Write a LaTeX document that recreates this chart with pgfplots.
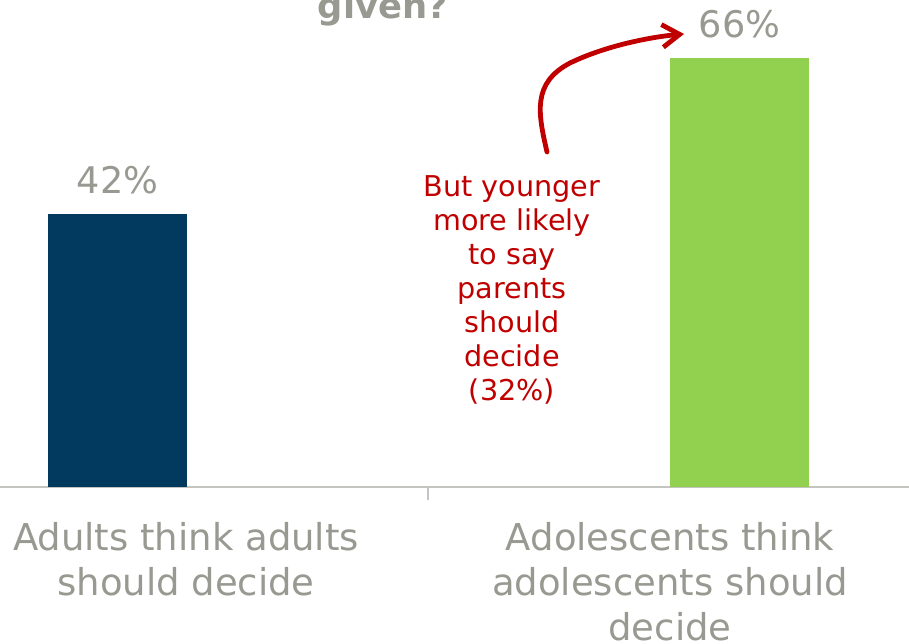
\documentclass[border=0pt]{standalone}
\usepackage{pgfplots}
\pgfplotsset{compat=1.18}
\usepackage{fontspec}
\setmainfont{DejaVu Sans}
\usetikzlibrary{arrows.meta}
\definecolor{navy}{RGB}{2,57,94}
\definecolor{lgreen}{RGB}{146,208,80}
\definecolor{txtgray}{RGB}{152,153,145}
\definecolor{axgray}{RGB}{196,196,192}
\definecolor{annred}{RGB}{192,0,0}
\begin{document}
\begin{tikzpicture}[x=0.75pt,y=0.75pt]
\useasboundingbox (0,0) rectangle (909,643);
\clip (0,0) rectangle (909,643);
\begin{axis}[
  scale only axis,
  width=681.75pt, height=365.25pt,
  at={(139.5pt,117pt)}, anchor=origin,
  xmin=-0.3843, xmax=1.4938,
  ymin=0, ymax=74.92,
  axis x line=bottom, axis y line=none,
  axis line style={draw=axgray, line width=1.5pt, -},
  ybar, bar width=104.25pt, bar shift=0pt,
  xtick={0,1},
  xticklabels={{Adults think adults\\should decide},{Adolescents think\\adolescents should\\decide}},
  major tick length=0pt,
  xticklabel style={align=center, inner sep=0pt, yshift=-26.25pt, text=txtgray,
    font=\fontsize{27.75}{33.75}\selectfont},
  extra x ticks={0.5},
  extra x tick labels={},
  extra x tick style={tick align=outside, major tick length=9.75pt,
    tick style={draw=axgray, line width=1.5pt}},
  /pgf/number format/assume math mode=true,
  nodes near coords={\pgfmathprintnumber{\pgfplotspointmeta}\%},
  nodes near coords style={anchor=base, inner sep=0pt, yshift=15pt, text=txtgray,
    font=\fontsize{27.5}{33}\selectfont},
  clip=false,
]
\addplot[fill=navy, draw=none, bar shift=0pt] coordinates {(-0.1415,42)};
\addplot[fill=lgreen, draw=none, bar shift=0pt] coordinates {(1.1436,66)};
\end{axis}
\node[anchor=base, inner sep=0pt, text=txtgray, font=\bfseries\fontsize{26.5}{30}\selectfont] at (383,624) {given?};
\node[anchor=north, inner sep=0pt, align=center, text=annred, font=\fontsize{21.5}{25.6}\selectfont] at (512,468)
  {But younger\\more likely\\to say\\parents\\should\\decide\\(32\%)};
\draw[annred, line width=3.6pt, line cap=round, -{Straight Barb[length=13pt,width=17pt,line width=3.6pt]}]
  (547,491) .. controls (538,530) and (532,560) .. (570,580) .. controls (605,597) and (650,606) .. (684,609);
\end{tikzpicture}
\end{document}
